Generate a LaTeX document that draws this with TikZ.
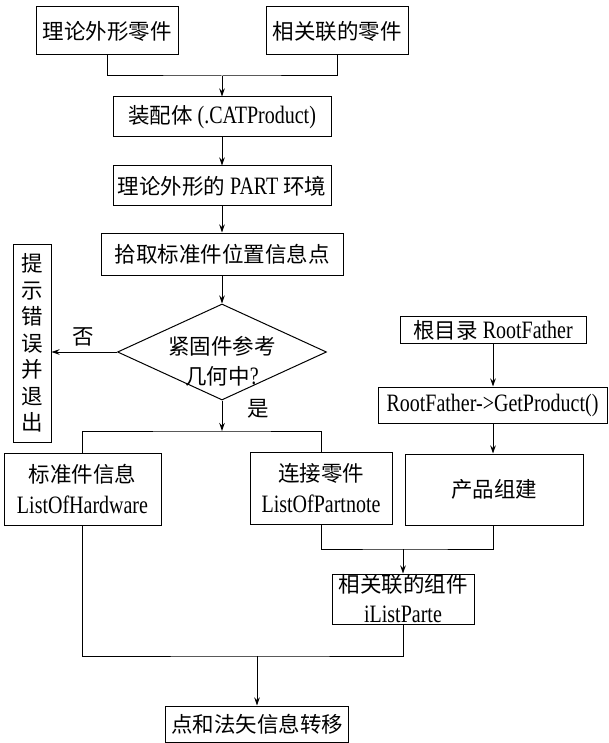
\documentclass[tikz,border=0pt]{standalone}
\usepackage{fontspec}
\setmainfont{Liberation Serif}[FakeStretch=0.8]
\newfontfamily\cjk{Noto Sans CJK SC}
\usetikzlibrary{arrows.meta,shapes.geometric}
\newcommand\zhtxt[1]{{\cjk\fontsize{21.5pt}{28pt}\selectfont #1}}
\begin{document}
\begin{tikzpicture}[x=1pt,y=-1pt,
  box/.style={draw, line width=1pt, inner sep=0pt, align=center, font=\fontsize{25pt}{30pt}\selectfont},
  line/.style={line width=1pt},
  arr/.style={line width=1pt,-{Stealth[length=8pt,width=5.5pt]}},
  lbl/.style={inner sep=0pt}]
\useasboundingbox (0,0) rectangle (608,743);

\node[box, minimum width=142pt, minimum height=48pt] (A) at (107,31) {\zhtxt{理论外形零件}};
\node[box, minimum width=142pt, minimum height=48pt] (B) at (337,31) {\zhtxt{相关联的零件}};
\node[box, minimum width=218pt, minimum height=40pt] (C) at (222,117) {\zhtxt{装配体} (.CATProduct)};
\node[box, minimum width=218pt, minimum height=40pt] (D) at (222,186) {\zhtxt{理论外形的} PART \zhtxt{环境}};
\node[box, minimum width=242pt, minimum height=42pt] (E) at (222,254) {\zhtxt{拾取标准件位置信息点}};
\node[draw, line width=1pt, shape=diamond, inner sep=0pt, minimum width=209pt, minimum height=96pt] (dia) at (222,352) {};
\node[lbl, align=center, font=\fontsize{25pt}{30pt}\selectfont] (diat) at (222,361) {\zhtxt{紧固件参考}\\\zhtxt{几何中}?};
\node[box, minimum width=38pt, minimum height=198pt, font=\cjk\fontsize{21.5pt}{26.5pt}\selectfont] (exit) at (32,343) {提\\示\\错\\误\\并\\退\\出};
\node[box, minimum width=186pt, minimum height=27pt] (root) at (493,330) {\zhtxt{根目录} RootFather};
\node[box, minimum width=229pt, minimum height=36pt] (gp) at (492.5,405) {RootFather->GetProduct()};
\node[box, minimum width=157pt, minimum height=72pt, font=\fontsize{25pt}{31pt}\selectfont] (F) at (82.5,489) {\zhtxt{标准件信息}\\ListOfHardware};
\node[box, minimum width=142pt, minimum height=72pt, font=\fontsize{25pt}{31pt}\selectfont] (G) at (321,488) {\zhtxt{连接零件}\\ListOfPartnote};
\node[box, minimum width=178pt, minimum height=71pt] (H) at (494,489.5) {\zhtxt{产品组建}};
\node[box, minimum width=142pt, minimum height=50pt, font=\fontsize{25pt}{30pt}\selectfont] (I) at (403,599) {\zhtxt{相关联的组件}\\iListParte};
\node[box, minimum width=183pt, minimum height=36pt] (J) at (257,724) {\zhtxt{点和法矢信息转移}};

\node[lbl] (no) at (83,337) {\zhtxt{否}};
\node[lbl] (yes) at (258,409) {\zhtxt{是}};

\coordinate (j1) at (222,76);
\coordinate (j2) at (222,431);
\coordinate (j3) at (403,549);
\coordinate (j4) at (257,656);

\draw[line] (A.south) |- (j1) -| (B.south);
\draw[arr] (j1) -- (C.north);
\draw[arr] (C.south) -- (D.north);
\draw[arr] (D.south) -- (E.north);
\draw[arr] (E.south) -- (dia.north);
\draw[arr] (dia.west) -- (dia.west -| exit.east);
\draw[arr] (dia.south) -- (j2);
\draw[line] (F.north) |- (j2) -| (G.north);
\draw[arr] (root.south) -- (root.south |- gp.north);
\draw[arr] (root.south |- gp.south) -- (root.south |- H.north);
\draw[line] (G.south) |- (j3) -| (root.south |- H.south);
\draw[arr] (j3) -- (I.north);
\draw[line] (F.south) |- (j4) -| (I.south);
\draw[arr] (j4) -- (J.north);
\end{tikzpicture}
\end{document}
